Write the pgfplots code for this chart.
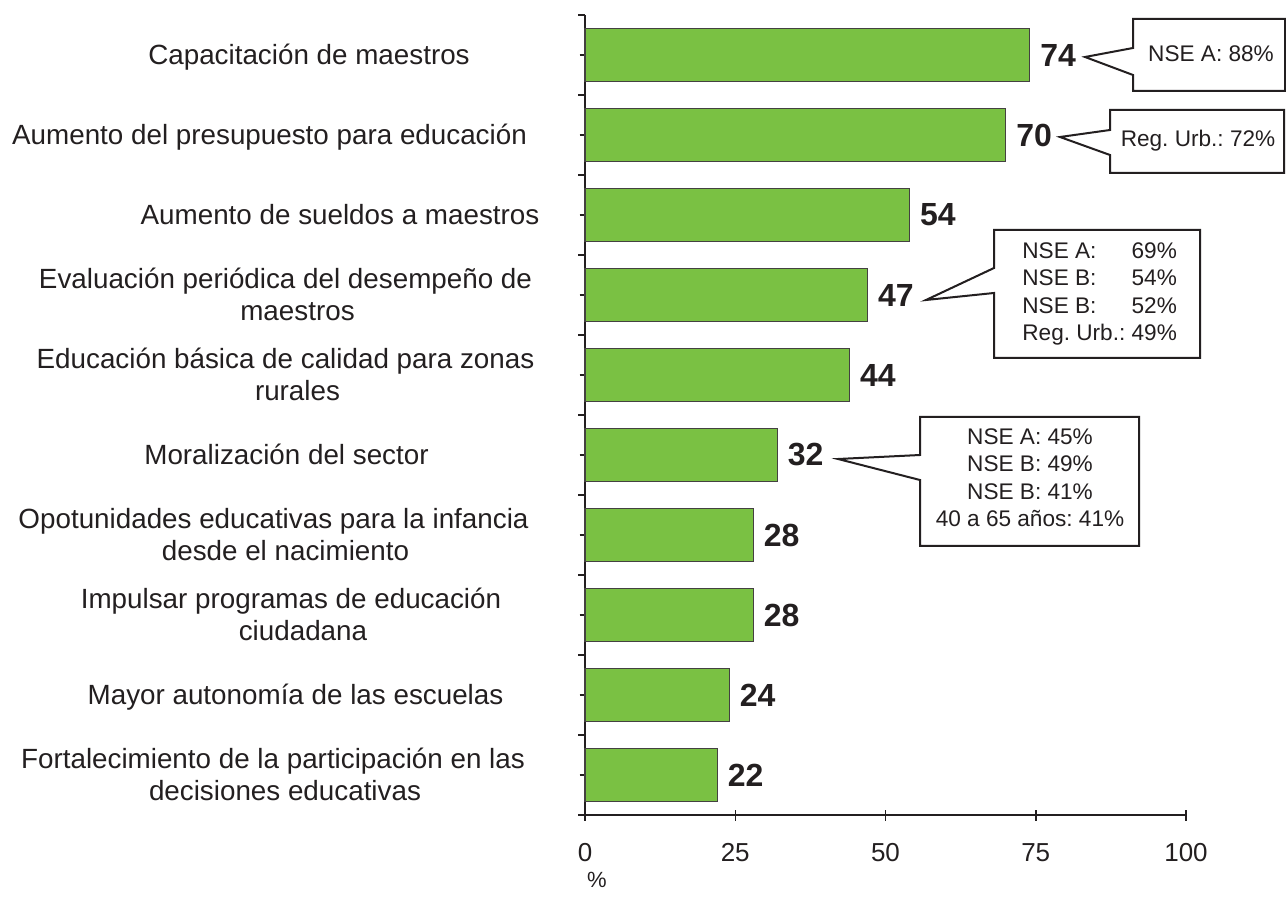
\documentclass[border=0pt]{standalone}
\usepackage{fontspec}
\setmainfont{Liberation Sans}
\usepackage{pgfplots}
\pgfplotsset{compat=1.18}
\frenchspacing
\definecolor{barGreen}{HTML}{7AC143}
\definecolor{inkDark}{HTML}{231F20}
% centred label block, moved sideways by #1
\newcommand{\ylab}[2]{\hbox to 0pt{\hss\kern#1\begin{tabular}{@{}c@{}}#2\end{tabular}\kern-#1\hss}}
% two-line label: first line sits a little left of the second
\newcommand{\ylabb}[3]{\ylab{#1}{#2\kern12pt\\#3}}
\newcommand{\callfont}{\fontsize{11.3}{13.75}\selectfont}
\begin{document}
\begin{tikzpicture}[x=0.5pt,y=0.5pt]
  \useasboundingbox (0,0) rectangle (1286,917);
  \begin{axis}[
    at={(292.5pt,51pt)}, anchor=south west,
    scale only axis, width=300.5pt, height=400pt,
    xmin=0, xmax=100, ymin=-0.5, ymax=9.5,
    xbar, bar width=26.5pt,
    axis lines=left,
    axis line style={-, inkDark, line width=0.75pt},
    tick style={inkDark, line width=0.75pt},
    tick align=center,
    major tick length=5.5pt,
    xtick={0,25,50,75,100},
    ytick={0,...,9},
    extra y ticks={-0.5,0.5,1.5,2.5,3.5,4.5,5.5,6.5,7.5,8.5,9.5},
    extra y tick labels={},
    extra y tick style={tick align=outside, major tick length=3.5pt},
    yticklabels={
      {\ylabb{0.25pt}{Fortalecimiento de la participación en las}{decisiones educativas}},
      {\ylab{5.5pt}{Mayor autonomía de las escuelas}},
      {\ylabb{9.25pt}{Impulsar programas de educación}{ciudadana}},
      {\ylabb{0.5pt}{Opotunidades educativas para la infancia}{desde el nacimiento}},
      {\ylab{1pt}{Moralización del sector}},
      {\ylabb{6.5pt}{Educación básica de calidad para zonas}{rurales}},
      {\ylabb{6.5pt}{Evaluación periódica del desempeño de}{maestros}},
      {\ylab{27.75pt}{Aumento de sueldos a maestros}},
      {\ylab{-7.5pt}{Aumento del presupuesto para educación}},
      {\ylab{12.25pt}{Capacitación de maestros}}
    },
    yticklabel style={anchor=center, xshift=-147.5pt, yshift=-1.5pt,
      font=\fontsize{13.9}{16}\selectfont, text=inkDark},
    /pgf/number format/assume math mode=true,
    xticklabel style={font=\fontsize{13}{15}\selectfont, text=inkDark, yshift=-8pt},
    xlabel={\%},
    xlabel style={at={(axis description cs:0.02,0)}, anchor=center,
      yshift=-32.5pt, font=\fontsize{11}{13}\selectfont, text=inkDark},
    nodes near coords,
    point meta=x,
    nodes near coords style={font=\bfseries\fontsize{16}{18}\selectfont,
      anchor=west, inner sep=0pt, xshift=5pt, text=inkDark},
    clip=false
  ]
    \addplot[fill=barGreen, draw=inkDark!85, line width=0.6pt, bar shift=0pt]
      coordinates {(22,0) (24,1) (28,2) (28,3) (32,4) (44,5) (47,6) (54,7) (70,8) (74,9)};
  \end{axis}

  % callouts, in pixel coordinates measured from the top
  \begin{scope}[shift={(0,917)}, yscale=-1, draw=inkDark, text=inkDark]
    \draw[line width=1pt, fill=white]
      (1133,19) -- (1285,19) -- (1285,91) -- (1133,91) -- (1133,75) -- (1085,57) -- (1133,48) -- cycle;
    \node[font=\callfont] at (1211,54) {NSE A: 88\%};

    \draw[line width=1pt, fill=white]
      (1110,110) -- (1284,110) -- (1284,173) -- (1110,173) -- (1110,155) -- (1060,137) -- (1110,130) -- cycle;
    \node[font=\callfont] at (1198,141) {Reg. Urb.: 72\%};

    \draw[line width=1pt, fill=white]
      (994,230) -- (1200,230) -- (1200,358) -- (994,358) -- (994,293) -- (926,300) -- (994,268) -- cycle;
    \node[font=\callfont, anchor=west, inner sep=0pt] at (1022,294) {%
      \begin{tabular}{@{}l@{}r@{}}
        NSE A: & 69\% \\
        NSE B: & 54\% \\
        NSE B: & 52\% \\
        \multicolumn{2}{@{}l@{}}{Reg. Urb.: 49\%}
      \end{tabular}};

    \draw[line width=1pt, fill=white]
      (920,417) -- (1139,417) -- (1139,546) -- (920,546) -- (920,480) -- (838,459) -- (920,455) -- cycle;
    \node[font=\callfont, inner sep=0pt] at (1030,480) {%
      \begin{tabular}{@{}c@{}}
        NSE A: 45\% \\
        NSE B: 49\% \\
        NSE B: 41\% \\
        40 a 65 años: 41\%
      \end{tabular}};
  \end{scope}
\end{tikzpicture}
\end{document}
